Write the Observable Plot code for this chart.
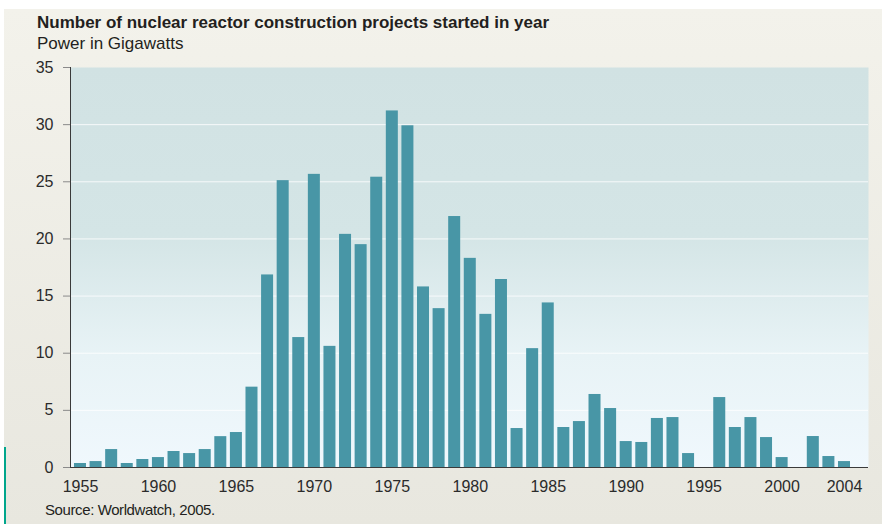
<!DOCTYPE html>
<html>
<head>
<meta charset="utf-8">
<script src="https://cdn.jsdelivr.net/npm/d3@7"></script>
<script src="https://cdn.jsdelivr.net/npm/@observablehq/plot@0.6"></script>
<style>
  body { margin: 0; background: #ffffff; font-family: "Liberation Sans", Arial, Helvetica, sans-serif; }
  #page { position: relative; width: 882px; height: 524px; overflow: hidden; background: #ffffff; }
  #panel { position: absolute; left: 4px; top: 9px; width: 878px; height: 515px; background: linear-gradient(#f3f2eb, #e8e7df); }
  #accent { position: absolute; left: 4px; top: 447px; width: 2px; height: 77px; background: #00a68c; }
  #title { position: absolute; left: 37px; top: 14px; font-weight: bold; font-size: 17px; line-height: 17px; color: #231f20; white-space: nowrap; }
  #subtitle { position: absolute; left: 37px; top: 35px; font-size: 17px; line-height: 17px; color: #231f20; white-space: nowrap; }
  #chart { position: absolute; left: 0; top: 50px; }
  #caption { position: absolute; left: 45px; top: 502px; font-size: 15px; line-height: 15px; letter-spacing: -0.4px; color: #231f20; white-space: nowrap; }
</style>
</head>
<body>
<div id="page">
  <div id="panel"></div>
  <div id="accent"></div>
  <div id="title">Number of nuclear reactor construction projects started in year</div>
  <div id="subtitle">Power in Gigawatts</div>
  <div id="chart"></div>
  <div id="caption">Source: Worldwatch, 2005.</div>
</div>
<script>
// Data
const years = [
  1955, 1956, 1957, 1958, 1959, 1960, 1961, 1962, 1963, 1964,
  1965, 1966, 1967, 1968, 1969, 1970, 1971, 1972, 1973, 1974,
  1975, 1976, 1977, 1978, 1979, 1980, 1981, 1982, 1983, 1984,
  1985, 1986, 1987, 1988, 1989, 1990, 1991, 1992, 1993, 1994,
  1995, 1996, 1997, 1998, 1999, 2000, 2001, 2002, 2003, 2004
];
const gigawatts = [
  0.35, 0.52, 1.57, 0.35, 0.7, 0.87, 1.4, 1.22, 1.57, 2.7,
  3.06, 7.03, 16.85, 25.1, 11.37, 25.65, 10.6, 20.4, 19.5, 25.4,
  31.2, 29.9, 15.8, 13.9, 21.96, 18.3, 13.4, 16.45, 3.41, 10.4,
  14.4, 3.5, 4.02, 6.39, 5.16, 2.27, 2.19, 4.29, 4.37, 1.22,
  0, 6.12, 3.5, 4.37, 2.62, 0.87, 0, 2.71, 0.96, 0.52
];
const xTickYears = [1955, 1960, 1965, 1970, 1975, 1980, 1985, 1990, 1995, 2000, 2004];
const yTickValues = [0, 5, 10, 15, 20, 25, 30, 35];
const gridValues = [5, 10, 15, 20, 25, 30];
const xDomain = [1954.36, 2005.54];
const yDomain = [0, 35];
const barHalfWidth = 0.385;

const data = years.map((year, i) => ({year, value: gigawatts[i]}));

const chart = Plot.plot({
  width: 882,
  height: 474,
  marginTop: 17,
  marginBottom: 57,
  marginLeft: 70,
  marginRight: 14,
  style: {background: "transparent", fontFamily: "Liberation Sans, Arial, Helvetica, sans-serif", fontSize: "16px", color: "#2b2b2b", overflow: "visible"},
  x: {domain: xDomain, label: null},
  y: {domain: yDomain, label: null},
  marks: [
    Plot.frame({fill: "url(#plotBg)", stroke: "none"}),
    Plot.ruleY(gridValues, {stroke: "#ffffff", strokeOpacity: 0.8, strokeWidth: 1}),
    Plot.rect(data, {
      x1: d => d.year - barHalfWidth,
      x2: d => d.year + barHalfWidth,
      y1: d => 0,
      y2: "value",
      fill: "#4896a6"
    }),
    Plot.axisY({ticks: yTickValues, tickSize: 7, tickPadding: 10, stroke: "#8a8a8a", fill: "#2b2b2b", label: null, fontSize: 16}),
    Plot.axisX({ticks: xTickYears, tickSize: 0, tickPadding: 13, tickFormat: d => String(d), fill: "#2b2b2b", label: null, fontSize: 16}),
    Plot.ruleX([xDomain[0]], {stroke: "#3a3a3a", strokeWidth: 1}),
    Plot.ruleY([0], {stroke: "#3a3a3a", strokeWidth: 1})
  ]
});

d3.select(chart).insert("defs", ":first-child").html(`
  <linearGradient id="plotBg" x1="0" y1="0" x2="0" y2="1">
    <stop offset="0" stop-color="#d1e2e3"/>
    <stop offset="0.42" stop-color="#d4e5e6"/>
    <stop offset="0.72" stop-color="#e8f3f6"/>
    <stop offset="1" stop-color="#f0f8fd"/>
  </linearGradient>`);

document.getElementById("chart").appendChild(chart);
</script>
</body>
</html>
